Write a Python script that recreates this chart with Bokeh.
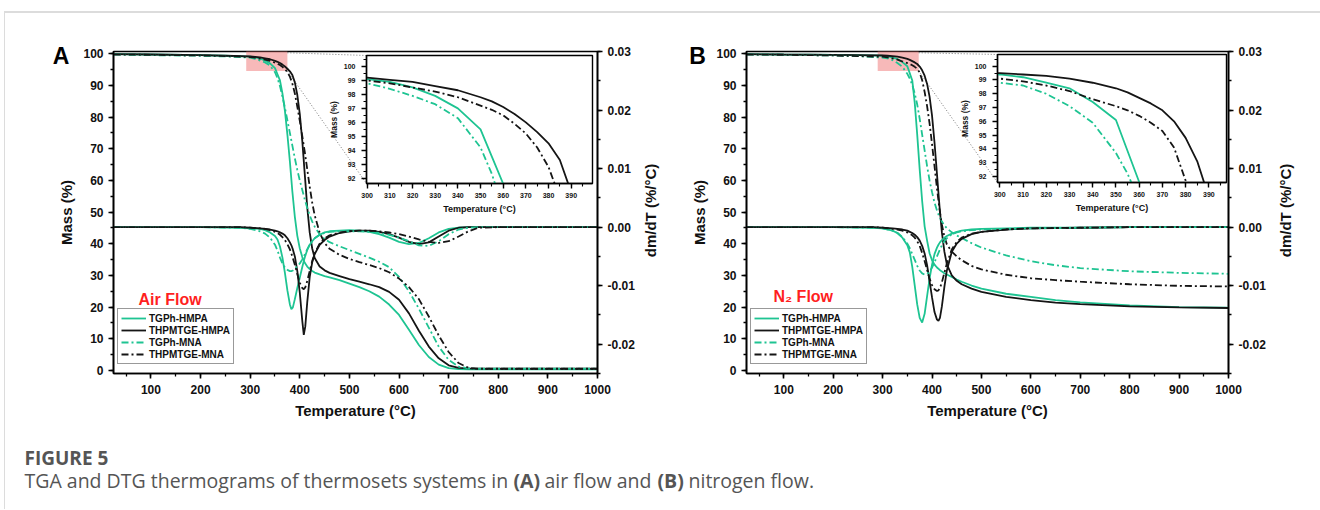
import math
from bokeh.plotting import figure
from bokeh.models import (Range1d, LinearAxis, SingleIntervalTicker,
                          NumeralTickFormatter, Legend, LegendItem, Label)
from bokeh.layouts import column, row
from bokeh.embed import file_html
from bokeh.resources import INLINE

# ------------------------------------------------------------------ data
series_names = ["TGPh-HMPA", "THPMTGE-HMPA", "TGPh-MNA", "THPMTGE-MNA"]

# Panel A : air flow -- mass (%)
T_A = [25, 100, 200, 250, 300, 310, 320, 330, 340, 350, 355, 360, 365, 370, 375, 380,
       385, 390, 395, 400, 405, 410, 415, 420, 425, 430, 440, 450, 460, 480, 500, 520,
       540, 560, 580, 600, 620, 640, 660, 680, 700, 720, 740, 760, 800, 900, 1000]
mass_A_tgph_hmpa = [99.9, 99.8, 99.6, 99.4, 99.1, 98.9, 98.5, 97.9, 97.0, 95.5, 93.55, 91.6,
                    87.5, 82.0, 74.5, 66.0, 56.5, 48.5, 42.5, 38.5, 35.8, 34.0, 32.8, 32.0,
                    31.4, 30.9, 30.3, 29.8, 29.4, 28.5, 27.4, 26.3, 25.0, 23.3, 20.8, 17.5,
                    12.8, 8.0, 4.2, 1.8, 0.7, 0.4, 0.3, 0.3, 0.3, 0.3, 0.3]
mass_A_thpmtge_hmpa = [99.9, 99.8, 99.6, 99.4, 99.2, 99.05, 98.9, 98.6, 98.3, 97.8, 97.5, 97.1,
                       96.6, 96.0, 95.3, 94.5, 93.3, 91.0, 87.0, 81.0, 72.5, 62.0, 51.5, 43.5,
                       38.5, 35.5, 32.8, 31.6, 30.8, 29.8, 28.8, 28.0, 27.2, 26.3, 24.8, 22.3,
                       18.0, 12.5, 7.5, 3.8, 1.6, 0.8, 0.6, 0.5, 0.5, 0.5, 0.5]
mass_A_tgph_mna = [99.8, 99.6, 99.4, 99.2, 98.8, 98.4, 97.9, 97.3, 96.3, 94.2, 92.3, 89.8,
                   86.5, 83.0, 79.0, 75.0, 71.0, 67.0, 63.3, 60.0, 57.0, 54.0, 51.3, 49.0,
                   47.0, 45.4, 43.0, 41.5, 40.5, 39.2, 38.0, 36.8, 35.6, 34.3, 32.6, 29.5,
                   25.0, 19.5, 13.5, 7.5, 3.3, 1.2, 0.6, 0.5, 0.5, 0.5, 0.5]
mass_A_thpmtge_mna = [99.8, 99.7, 99.5, 99.3, 99.0, 98.8, 98.5, 98.2, 97.8, 97.2, 96.9, 96.5,
                      95.9, 95.2, 94.2, 92.8, 90.6, 87.5, 83.3, 78.8, 74.0, 69.0, 63.5, 58.0,
                      53.0, 49.0, 43.5, 40.2, 38.4, 36.5, 35.2, 34.2, 33.3, 32.3, 31.0, 29.0,
                      26.3, 22.5, 17.0, 11.0, 5.8, 2.3, 0.8, 0.5, 0.5, 0.5, 0.5]

# Panel A : air flow -- dm/dT (%/°C)
Td_A = [25, 200, 280, 300, 320, 330, 340, 350, 355, 360, 365, 370, 375, 380, 383, 386, 390,
        395, 400, 405, 408, 411, 415, 420, 425, 430, 440, 450, 460, 480, 500, 520, 540, 560,
        580, 600, 620, 640, 660, 680, 700, 720, 740, 760, 800, 1000]
dtg_A_tgph_hmpa = [0, 0, -0.0001, -0.0002, -0.0003, -0.0005, -0.0009, -0.0015, -0.0021, -0.0033,
                   -0.0052, -0.0078, -0.0108, -0.0132, -0.0140, -0.0137, -0.0123, -0.0104,
                   -0.0086, -0.0068, -0.0058, -0.0049, -0.0039, -0.0030, -0.0024, -0.0019,
                   -0.0013, -0.0009, -0.0007, -0.0006, -0.0005, -0.0006, -0.0008, -0.0012,
                   -0.0018, -0.0025, -0.0029, -0.0027, -0.0019, -0.0009, -0.0003, -0.0001,
                   0, 0, 0, 0]
dtg_A_thpmtge_hmpa = [0, 0, 0, -0.0001, -0.0002, -0.0003, -0.0004, -0.0006, -0.0007, -0.0009,
                      -0.0011, -0.0014, -0.0019, -0.0026, -0.0031, -0.0038, -0.0050, -0.0075,
                      -0.0112, -0.0160, -0.0184, -0.0170, -0.0128, -0.0085, -0.0060, -0.0046,
                      -0.0030, -0.0022, -0.0016, -0.0010, -0.0007, -0.0006, -0.0006, -0.0008,
                      -0.0012, -0.0018, -0.0025, -0.0029, -0.0026, -0.0016, -0.0006, -0.0001,
                      0, 0, 0, 0]
dtg_A_tgph_mna = [0, 0, -0.0001, -0.0003, -0.0007, -0.0011, -0.0018, -0.0030, -0.0040, -0.0052,
                  -0.0062, -0.0069, -0.0073, -0.0075, -0.0075, -0.0074, -0.0071, -0.0067,
                  -0.0062, -0.0055, -0.0050, -0.0045, -0.0038, -0.0030, -0.0024, -0.0019,
                  -0.0013, -0.0010, -0.0008, -0.0007, -0.0007, -0.0007, -0.0008, -0.0010,
                  -0.0013, -0.0018, -0.0024, -0.0031, -0.0032, -0.0024, -0.0012, -0.0004,
                  -0.0001, 0, 0, 0]
dtg_A_thpmtge_mna = [0, 0, 0, -0.0001, -0.0002, -0.0003, -0.0005, -0.0008, -0.0010, -0.0013,
                     -0.0017, -0.0022, -0.0029, -0.0038, -0.0045, -0.0053, -0.0064, -0.0080,
                     -0.0095, -0.0104, -0.0106, -0.0103, -0.0092, -0.0075, -0.0058, -0.0045,
                     -0.0028, -0.0019, -0.0014, -0.0009, -0.0007, -0.0006, -0.0006, -0.0007,
                     -0.0009, -0.0012, -0.0016, -0.0021, -0.0025, -0.0027, -0.0024, -0.0016,
                     -0.0007, -0.0001, 0, 0]

# Panel B : nitrogen flow -- mass (%)
T_B = [25, 100, 200, 250, 300, 310, 320, 330, 340, 350, 355, 360, 365, 370, 375, 380, 385,
       390, 395, 400, 405, 410, 415, 420, 425, 430, 440, 450, 460, 480, 500, 550, 600, 650,
       700, 800, 900, 1000]
mass_B_tgph_hmpa = [99.9, 99.8, 99.7, 99.6, 99.4, 99.2, 98.8, 98.4, 97.4, 96.1, 93.85, 91.6,
                    84.5, 74.5, 63.5, 53.5, 45.5, 41.0, 37.0, 34.8, 33.4, 32.5, 31.8, 31.2,
                    30.7, 30.3, 29.5, 28.7, 28.0, 26.8, 25.8, 24.2, 23.2, 22.2, 21.5, 20.5,
                    20.0, 19.8]
mass_B_thpmtge_hmpa = [99.9, 99.8, 99.7, 99.6, 99.5, 99.4, 99.3, 99.1, 98.8, 98.4, 98.1, 97.7,
                       97.3, 96.8, 96.0, 94.8, 93.1, 90.5, 86.5, 80.5, 72.0, 62.0, 52.0, 43.5,
                       37.5, 33.5, 30.0, 28.3, 27.2, 25.8, 24.8, 23.2, 22.2, 21.4, 20.9, 20.2,
                       19.9, 19.7]
mass_B_tgph_mna = [99.8, 99.7, 99.5, 99.3, 98.8, 98.6, 98.0, 97.1, 95.9, 93.7, 92.2, 90.2,
                   87.5, 84.0, 79.5, 74.5, 69.5, 64.5, 60.0, 56.3, 53.0, 50.5, 48.5, 47.0,
                   45.8, 44.9, 43.6, 42.6, 41.8, 40.2, 38.8, 36.3, 34.5, 33.2, 32.3, 31.3,
                   30.8, 30.5]
mass_B_thpmtge_mna = [99.8, 99.7, 99.5, 99.3, 99.1, 98.9, 98.6, 98.2, 97.6, 97.1, 96.8, 96.4,
                      95.9, 95.3, 94.1, 91.7, 88.0, 83.5, 78.0, 71.5, 64.5, 57.5, 51.0, 46.0,
                      42.3, 39.8, 37.5, 36.0, 34.8, 33.0, 31.9, 30.2, 29.1, 28.5, 28.0, 27.2,
                      26.7, 26.5]

# Panel B : nitrogen flow -- dm/dT (%/°C)
Td_B = [25, 200, 280, 300, 320, 330, 340, 350, 355, 360, 365, 370, 375, 380, 385, 390, 395,
        400, 405, 410, 413, 416, 420, 425, 430, 440, 450, 460, 480, 500, 550, 600, 700, 800,
        1000]
dtg_B_tgph_hmpa = [0, 0, -0.0001, -0.0002, -0.0006, -0.0010, -0.0018, -0.0031, -0.0043, -0.0068,
                   -0.0100, -0.0132, -0.0155, -0.0163, -0.0148, -0.0118, -0.0088, -0.0064,
                   -0.0046, -0.0035, -0.0030, -0.0026, -0.0022, -0.0018, -0.0015, -0.0011,
                   -0.0008, -0.0006, -0.0004, -0.0003, -0.0002, -0.0001, -0.0001, 0, 0]
dtg_B_thpmtge_hmpa = [0, 0, 0, -0.0001, -0.0002, -0.0003, -0.0004, -0.0006, -0.0008, -0.0010,
                      -0.0013, -0.0017, -0.0023, -0.0032, -0.0045, -0.0065, -0.0092, -0.0120,
                      -0.0145, -0.0158, -0.0160, -0.0155, -0.0135, -0.0102, -0.0074, -0.0042,
                      -0.0028, -0.0020, -0.0012, -0.0008, -0.0004, -0.0002, -0.0001, 0, 0]
dtg_B_tgph_mna = [0, 0, -0.0001, -0.0002, -0.0006, -0.0010, -0.0017, -0.0028, -0.0036, -0.0046,
                  -0.0056, -0.0066, -0.0074, -0.0079, -0.0081, -0.0080, -0.0076, -0.0069,
                  -0.0060, -0.0050, -0.0044, -0.0038, -0.0031, -0.0024, -0.0019, -0.0012,
                  -0.0009, -0.0007, -0.0005, -0.0004, -0.0003, -0.0002, -0.0001, 0, 0]
dtg_B_thpmtge_mna = [0, 0, 0, -0.0001, -0.0003, -0.0004, -0.0006, -0.0009, -0.0011, -0.0014,
                     -0.0018, -0.0024, -0.0032, -0.0044, -0.0058, -0.0073, -0.0088, -0.0099,
                     -0.0106, -0.0109, -0.0108, -0.0104, -0.0094, -0.0078, -0.0062, -0.0038,
                     -0.0025, -0.0018, -0.0011, -0.0008, -0.0004, -0.0002, -0.0001, 0, 0]

# zoomed regions shown in the insets: (T from, T to, mass from, mass to)
zoom_region_A = (292, 375, 94.6, 101.5)
zoom_region_B = (290, 373, 94.6, 101.5)

panel_letters = ["A", "B"]
flow_labels = ["Air Flow", "N\u2082 Flow"]
dtg_axis_title = "dm/dT (%/°C)"
caption_title = "FIGURE 5"
caption_parts = ["TGA and DTG thermograms of thermosets systems in", "(A)", "air flow and",
                 "(B)", "nitrogen flow."]

# ------------------------------------------------------------------ style / layout
GREEN = "#1ec492"
BLACK = "#151515"
DASHDOT = "7 3 2 3"
STYLES = [(GREEN, "solid"), (BLACK, "solid"), (GREEN, DASHDOT), (BLACK, DASHDOT)]
FONT = "Liberation Sans"

PAGE_X0, PAGE_Y0 = 5, 13          # page position of the content (after margin + border)
MAIN_H = 418
MB_TOP, MB_BOTTOM = 38, 58
X_RANGE = (24.5, 1000)
Y_RANGE = (-1.0, 100.75)
D_RANGE = (-0.025, 0.03001)
INSET_H = 128


def style_axis(ax, tick_px="12px", lab_px="15px", lab_style="bold", tick_style="bold",
               tick_out=5, minor_out=3, lw=1.6, label_standoff=5, title_standoff=5):
    ax.axis_line_width = lw
    ax.axis_line_color = "black"
    ax.major_tick_line_width = lw
    ax.minor_tick_line_width = lw * 0.8
    ax.major_tick_line_color = "black"
    ax.minor_tick_line_color = "black"
    ax.major_tick_in = 0
    ax.major_tick_out = tick_out
    ax.minor_tick_in = 0
    ax.minor_tick_out = minor_out
    ax.major_label_text_font = FONT
    ax.major_label_text_font_style = tick_style
    ax.major_label_text_font_size = tick_px
    ax.major_label_text_color = "#111111"
    ax.major_label_standoff = label_standoff
    ax.axis_label_text_font = FONT
    ax.axis_label_text_font_style = lab_style
    ax.axis_label_text_font_size = lab_px
    ax.axis_label_text_color = "#111111"
    ax.axis_label_standoff = title_standoff


def px2data(px, py, frame, xr, yr):
    l, r, t, b = frame
    return (xr[0] + (px - l) / (r - l) * (xr[1] - xr[0]),
            yr[1] - (py - t) / (b - t) * (yr[1] - yr[0]))


def main_panel(T, masses, Td, dtgs, width, mbl, mbr, page_left, flow, flow_px, zoom,
               inset_px, legend_loc):
    p = figure(width=width, height=MAIN_H, x_range=Range1d(*X_RANGE),
               y_range=Range1d(*Y_RANGE), output_backend="svg", toolbar_location=None,
               min_border_left=mbl, min_border_right=mbr, min_border_top=MB_TOP,
               min_border_bottom=MB_BOTTOM)
    p.frame_align = False
    p.extra_y_ranges = {"dtg": Range1d(*D_RANGE)}
    p.grid.visible = False
    p.outline_line_color = "black"
    p.outline_line_width = 1.6
    p.background_fill_color = "white"
    p.border_fill_color = "white"

    frame = (page_left + mbl, page_left + width - mbr, PAGE_Y0 + MB_TOP,
             PAGE_Y0 + MAIN_H - MB_BOTTOM)

    p.xaxis.ticker = SingleIntervalTicker(interval=100, num_minor_ticks=2)
    p.yaxis.ticker = SingleIntervalTicker(interval=10, num_minor_ticks=2)
    p.xaxis.axis_label = "Temperature (°C)"
    p.yaxis.axis_label = "Mass (%)"
    style_axis(p.xaxis[0], label_standoff=6, title_standoff=5)
    style_axis(p.yaxis[0], label_standoff=5, title_standoff=5)

    rax = LinearAxis(y_range_name="dtg",
                     ticker=SingleIntervalTicker(interval=0.01, num_minor_ticks=2),
                     formatter=NumeralTickFormatter(format="0.00"))
    style_axis(rax, label_standoff=5)
    p.add_layout(rax, "right")

    # zoom region highlight
    p.quad(left=[zoom[0]], right=[zoom[1]], bottom=[zoom[2]], top=[zoom[3]],
           fill_color="#f08080", fill_alpha=0.55, line_color=None)

    # connector lines to the inset
    tl = px2data(inset_px[0], inset_px[1], frame, X_RANGE, Y_RANGE)
    bl = px2data(inset_px[0], inset_px[2], frame, X_RANGE, Y_RANGE)
    p.line([zoom[1], tl[0]], [Y_RANGE[1] - 0.4, tl[1]], line_color="#555555",
           line_width=0.8, line_dash="1 2")
    p.line([zoom[1], bl[0]], [zoom[2], bl[1]], line_color="#555555",
           line_width=0.8, line_dash="1 2")

    rends = []
    for m, (c, d) in zip(masses, STYLES):
        rends.append(p.line(T, m, line_color=c, line_width=1.8, line_dash=d))
    for g, (c, d) in zip(dtgs, STYLES):
        p.line(Td, g, line_color=c, line_width=1.8, line_dash=d, y_range_name="dtg")

    leg = Legend(items=[LegendItem(label=n, renderers=[r]) for n, r in zip(series_names, rends)],
                 location=legend_loc)
    leg.border_line_color = "#333333"
    leg.border_line_width = 1.3
    leg.padding = 3
    leg.spacing = 0
    leg.margin = 0
    leg.glyph_width = 25
    leg.glyph_height = 12
    leg.label_height = 12
    leg.label_standoff = 3
    leg.label_text_font = FONT
    leg.label_text_font_style = "bold"
    leg.label_text_font_size = "10px"
    leg.label_text_color = "#111111"
    leg.background_fill_alpha = 1.0
    p.add_layout(leg)

    fx, fy = px2data(flow_px[0], flow_px[1], frame, X_RANGE, Y_RANGE)
    p.add_layout(Label(x=fx, y=fy, text=flow, text_font=FONT, text_font_style="bold",
                       text_font_size="16px", text_align="left", text_baseline="middle",
                       text_color="#ff1f1f"))
    return p


def inset_panel(T, masses, xr, yr, width, frame_left, frame_top, frame_w):
    # full-size transparent overlay whose frame is the inset box
    q = figure(width=width, height=MAIN_H, x_range=Range1d(*xr), y_range=Range1d(*yr),
               output_backend="svg", toolbar_location=None,
               min_border_left=frame_left, min_border_right=width - frame_left - frame_w,
               min_border_top=frame_top, min_border_bottom=MAIN_H - frame_top - INSET_H)
    q.frame_align = False
    q.margin = (-MAIN_H, 0, 0, 0)
    q.border_fill_color = None
    q.background_fill_color = "white"
    q.outline_line_color = "black"
    q.outline_line_width = 1.4
    q.grid.visible = False
    q.xaxis.ticker = SingleIntervalTicker(interval=10, num_minor_ticks=2)
    q.yaxis.ticker = SingleIntervalTicker(interval=1, num_minor_ticks=2)
    q.xaxis.axis_label = "Temperature (°C)"
    q.yaxis.axis_label = "Mass (%)"
    style_axis(q.xaxis[0], tick_px="7px", lab_px="9px", tick_out=5, minor_out=3, lw=1.4,
               label_standoff=4, title_standoff=3)
    style_axis(q.yaxis[0], tick_px="7px", lab_px="8.5px", tick_out=5, minor_out=3, lw=1.4,
               label_standoff=6, title_standoff=2)
    for m, (c, d) in zip(masses, STYLES):
        q.line(T, m, line_color=c, line_width=1.8, line_dash=d)
    return q


def annotation_layer(width, page_left, letter, letter_px, title_px):
    # transparent overlay in pixel units for texts outside the plot frames
    a = figure(width=width, height=MAIN_H, x_range=Range1d(0, width),
               y_range=Range1d(MAIN_H, 0), output_backend="svg", toolbar_location=None,
               min_border=0, x_axis_type=None, y_axis_type=None)
    a.frame_align = False
    a.margin = (-MAIN_H, 0, 0, 0)
    a.grid.visible = False
    a.outline_line_color = None
    a.background_fill_color = None
    a.border_fill_color = None
    a.add_layout(Label(x=letter_px[0] - page_left, y=letter_px[1] - PAGE_Y0, text=letter,
                       text_font=FONT, text_font_style="bold", text_font_size="23px",
                       text_align="center", text_baseline="middle", text_color="black"))
    a.add_layout(Label(x=title_px[0] - page_left, y=title_px[1] - PAGE_Y0,
                       text=dtg_axis_title, angle=math.pi / 2, text_font=FONT,
                       text_font_style="bold", text_font_size="15px", text_align="center",
                       text_baseline="middle", text_color="#111111"))
    return a


# ---- panel A
A_LEFT, A_W, A_MBL, A_MBR = PAGE_X0, 671, 108, 79
insA_frame = (366, 55, 226)          # page left, page top, width
pA = main_panel(T_A, [mass_A_tgph_hmpa, mass_A_thpmtge_hmpa, mass_A_tgph_mna, mass_A_thpmtge_mna],
                Td_A, [dtg_A_tgph_hmpa, dtg_A_thpmtge_hmpa, dtg_A_tgph_mna, dtg_A_thpmtge_mna],
                A_W, A_MBL, A_MBR, A_LEFT, flow_labels[0], (138, 299), zoom_region_A,
                (insA_frame[0], insA_frame[1], insA_frame[1] + INSET_H), (4, 9))
insA = inset_panel(T_A, [mass_A_tgph_hmpa, mass_A_thpmtge_hmpa, mass_A_tgph_mna, mass_A_thpmtge_mna],
                   (299.7, 399.4), (91.62, 100.79), A_W, insA_frame[0] - A_LEFT,
                   insA_frame[1] - PAGE_Y0, insA_frame[2])
annA = annotation_layer(A_W, A_LEFT, panel_letters[0], (60.5, 55), (650, 210))

# ---- panel B
B_LEFT, B_W, B_MBL, B_MBR = PAGE_X0 + A_W, 644, 70, 92
insB_frame = (997, 54, 229)
pB = main_panel(T_B, [mass_B_tgph_hmpa, mass_B_thpmtge_hmpa, mass_B_tgph_mna, mass_B_thpmtge_mna],
                Td_B, [dtg_B_tgph_hmpa, dtg_B_thpmtge_hmpa, dtg_B_tgph_mna, dtg_B_thpmtge_mna],
                B_W, B_MBL, B_MBR, B_LEFT, flow_labels[1], (773, 296), zoom_region_B,
                (insB_frame[0], insB_frame[1], insB_frame[1] + INSET_H), (4, 9))
insB = inset_panel(T_B, [mass_B_tgph_hmpa, mass_B_thpmtge_hmpa, mass_B_tgph_mna, mass_B_thpmtge_mna],
                   (299.0, 397.6), (91.56, 100.85), B_W, insB_frame[0] - B_LEFT,
                   insB_frame[1] - PAGE_Y0, insB_frame[2])
annB = annotation_layer(B_W, B_LEFT, panel_letters[1], (697, 55), (1285, 210))

# ---- caption
CAP_W, CAP_H = A_W + B_W, 78
cap = figure(width=CAP_W, height=CAP_H, x_range=Range1d(0, CAP_W), y_range=Range1d(CAP_H, 0),
             output_backend="svg", toolbar_location=None, min_border=0,
             x_axis_type=None, y_axis_type=None)
cap.frame_align = False
cap.grid.visible = False
cap.outline_line_color = None
CAP_Y0 = PAGE_Y0 + MAIN_H
cap.add_layout(Label(x=24 - PAGE_X0, y=457 - CAP_Y0, text=caption_title, text_font="Open Sans",
                     text_font_style="bold", text_font_size="19px", text_color="#555555",
                     text_baseline="middle"))
cap_x = [24, 513, 544, 657, 688]
for i, (t, x) in enumerate(zip(caption_parts, cap_x)):
    cap.add_layout(Label(x=x - PAGE_X0, y=480 - CAP_Y0, text=t, text_font="Open Sans",
                         text_font_style="bold" if i in (1, 3) else "normal",
                         text_font_size="19.5px", text_color="#555555",
                         text_baseline="middle"))

colA = column(pA, insA, annA)
colB = column(pB, insB, annB)
root = column(row(colA, colB), cap, margin=(11, 0, 0, 4),
              styles={"border-top": "2px solid #dcdcdc", "border-left": "1px solid #dcdcdc"})

open("out.html", "w").write(file_html(root, INLINE))
